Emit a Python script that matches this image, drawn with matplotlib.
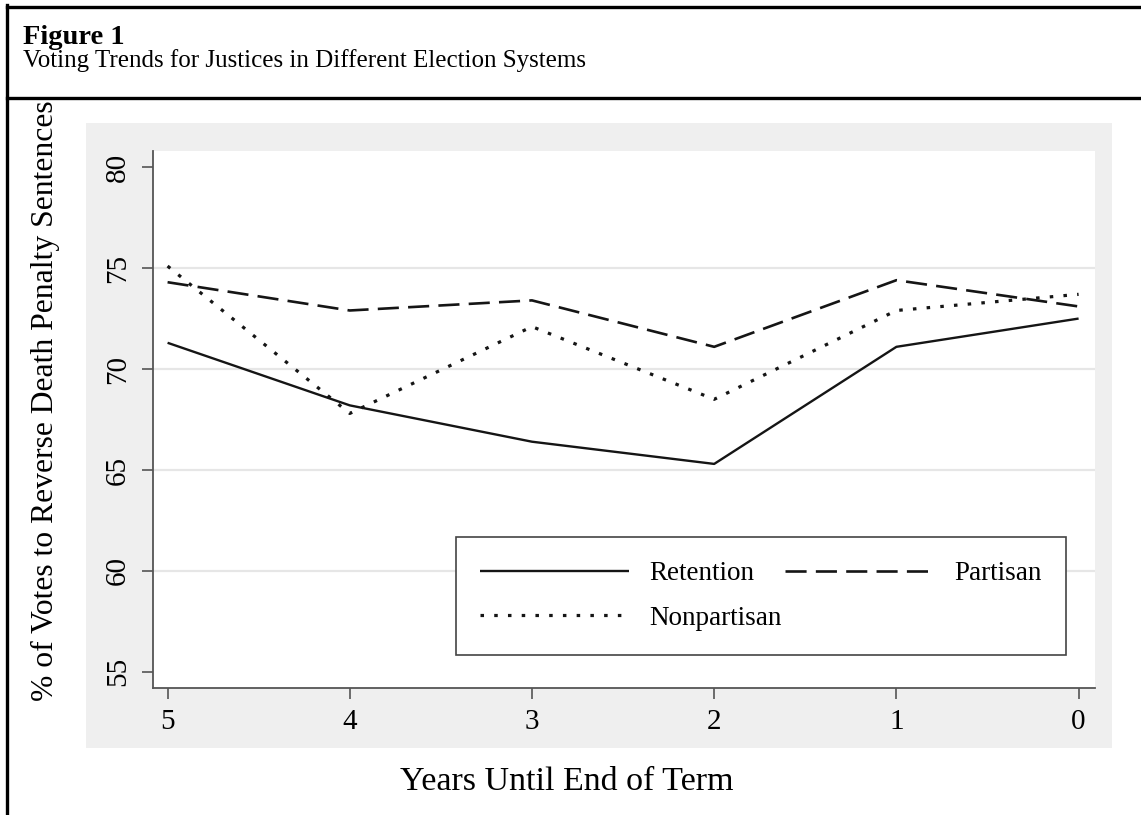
import matplotlib.pyplot as plt
from matplotlib.lines import Line2D
from matplotlib.patches import Rectangle

plt.rcParams['font.family'] = ['Liberation Serif', 'DejaVu Serif']

years = [5, 4, 3, 2, 1, 0]
retention = [71.3, 68.2, 66.4, 65.3, 71.1, 72.5]
partisan = [74.3, 72.9, 73.4, 71.1, 74.4, 73.1]
nonpartisan = [75.1, 67.8, 72.1, 68.5, 72.9, 73.7]
yticks = [55, 60, 65, 70, 75, 80]
grid_vals = [60, 65, 70, 75]

W, H = 1141, 815
fig = plt.figure(figsize=(W / 100, H / 100), dpi=100)
fig.patch.set_facecolor('white')

# header frame
fig.add_artist(Line2D([6.5 / W, 1], [1 - 6.5 / H, 1 - 6.5 / H], color='black', lw=2.4))
fig.add_artist(Line2D([6.5 / W, 6.5 / W], [0, 1 - 5 / H], color='black', lw=2.4))
fig.add_artist(Line2D([6.5 / W, 1], [1 - 97.5 / H, 1 - 97.5 / H], color='black', lw=2.4))
fig.text(23 / W, 1 - 44 / H, 'Figure 1', fontsize=20.5, fontweight='bold', va='baseline')
fig.text(23 / W, 1 - 67.5 / H, 'Voting Trends for Justices in Different Election Systems',
         fontsize=18, va='baseline')

# gray graph region
fig.add_artist(Rectangle((86 / W, 1 - 748 / H), (1112 - 86) / W, (748 - 123) / H,
                         transform=fig.transFigure, facecolor='#efefef', edgecolor='none', zorder=0))

ax = fig.add_axes([153 / W, 1 - 688 / H, (1095 - 153) / W, (688 - 151) / H])
ax.set_facecolor('white')

for g in grid_vals:
    ax.axhline(g, color='#e6e6e6', lw=1.6, zorder=1)

ink = '#151515'
ax.plot(years, retention, color=ink, lw=1.7, solid_capstyle='butt', label='Retention', zorder=3)
ax.plot(years, nonpartisan, color=ink, lw=2.3, dashes=(1.1, 3.2), dash_capstyle='butt',
        label='Nonpartisan', zorder=3)
ax.plot(years, partisan, color=ink, lw=1.9, dashes=(8, 3.5), dash_capstyle='butt',
        label='Partisan', zorder=3)

ax.set_xlim(5.08, -0.09)
ax.set_ylim(54.2, 80.8)
ax.set_xticks(years)
ax.set_yticks(yticks)
ax.tick_params(axis='both', labelsize=21, length=8, width=1.2, color='#555555', labelcolor='black')
ax.tick_params(axis='x', pad=7)
ax.tick_params(axis='y', pad=8)
for lab in ax.get_yticklabels():
    lab.set_rotation(90)
    lab.set_va('center')

for side in ['top', 'right']:
    ax.spines[side].set_visible(False)
for side in ['left', 'bottom']:
    ax.spines[side].set_color('#555555')
    ax.spines[side].set_linewidth(1.3)

leg = ax.legend(ncol=2, loc='upper left', bbox_to_anchor=(0.3217, 0.2812), borderaxespad=0,
                fontsize=19.5, handlelength=5.5, handletextpad=0.75,
                columnspacing=0.1, borderpad=0.9, labelspacing=0.72, frameon=True,
                fancybox=False, edgecolor='#444444', framealpha=1)
leg.get_frame().set_linewidth(1.2)

fig.text(45 / W, 1 - 401 / H, '% of Votes to Reverse Death Penalty Sentences',
         rotation=90, fontsize=22.8, ha='center', va='center')
fig.text(567 / W, 1 - 782 / H, 'Years Until End of Term', fontsize=24.5, ha='center', va='center')

fig.savefig('out.png', dpi=100)
